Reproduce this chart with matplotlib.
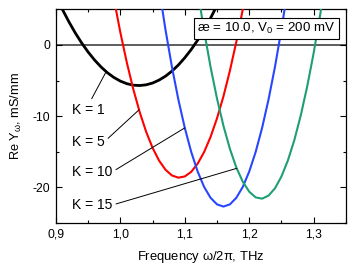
import numpy as np
import matplotlib
matplotlib.use('Agg')
import matplotlib.pyplot as plt
from matplotlib.ticker import MultipleLocator, FuncFormatter

plt.rcParams['font.family'] = ['Liberation Sans', 'DejaVu Sans']
plt.rcParams['mathtext.fontset'] = 'custom'
plt.rcParams['mathtext.rm'] = 'Liberation Sans'
plt.rcParams['mathtext.it'] = 'Liberation Sans'
plt.rcParams['axes.unicode_minus'] = False

# Re Y vs frequency
freq_k1 = [0.90, 0.91, 0.92, 0.93, 0.94, 0.95, 0.96, 0.97, 0.98, 0.99, 1.00, 1.01, 1.02, 1.03,
           1.04, 1.05, 1.06, 1.07, 1.08, 1.09, 1.10, 1.11, 1.12, 1.13, 1.14, 1.15, 1.16]
re_k1 = [6.88, 5.00, 3.27, 1.69, 0.27, -1.00, -2.12, -3.09, -3.91, -4.57, -5.08, -5.44, -5.65, -5.70,
         -5.60, -5.35, -4.94, -4.39, -3.68, -2.82, -1.80, -0.64, 0.68, 2.15, 3.77, 5.55, 7.48]

freq_k5 = [0.99, 1.00, 1.01, 1.02, 1.03, 1.04, 1.05, 1.06, 1.07, 1.08, 1.09, 1.10, 1.11, 1.12,
           1.13, 1.14, 1.15, 1.16, 1.17, 1.18, 1.19, 1.20]
re_k5 = [6.46, 1.75, -2.46, -6.19, -9.43, -12.19, -14.45, -16.23, -17.52, -18.33, -18.64, -18.47,
         -17.82, -16.67, -15.04, -12.92, -10.31, -7.22, -3.63, 0.44, 4.99, 10.04]

freq_k10 = [1.06, 1.07, 1.08, 1.09, 1.10, 1.11, 1.12, 1.13, 1.14, 1.15, 1.16, 1.17, 1.18, 1.19,
            1.20, 1.21, 1.22, 1.23, 1.24, 1.25, 1.26]
re_k10 = [7.99, 2.16, -3.06, -7.66, -11.65, -15.03, -17.79, -19.94, -21.47, -22.39, -22.70, -22.39,
          -21.47, -19.94, -17.79, -15.03, -11.65, -7.66, -3.06, 2.16, 7.99]

freq_k15 = [1.12, 1.13, 1.14, 1.15, 1.16, 1.17, 1.18, 1.19, 1.20, 1.21, 1.22, 1.23, 1.24, 1.25,
            1.26, 1.27, 1.28, 1.29, 1.30, 1.31, 1.32]
re_k15 = [7.62, 1.97, -3.09, -7.53, -11.36, -14.59, -17.21, -19.21, -20.61, -21.41, -21.59, -21.16,
          -20.13, -18.48, -16.23, -13.37, -9.90, -5.83, -1.14, 4.16, 10.06]

labels = ['K = 1', 'K = 5', 'K = 10', 'K = 15']

fig = plt.figure(figsize=(3.54, 2.67), dpi=100)
ax = fig.add_axes([0.158, 0.165, 0.819, 0.80])

ax.axhline(0, color='#505050', lw=1.3, zorder=1)

ax.plot(freq_k1, re_k1, color='black', lw=2.0, zorder=3)
ax.plot(freq_k5, re_k5, color='#ff0000', lw=1.5, zorder=3)
ax.plot(freq_k10, re_k10, color='#2846ff', lw=1.5, zorder=3)
ax.plot(freq_k15, re_k15, color='#1f9e76', lw=1.5, zorder=3)

# leader lines from labels to curves
curves = [(freq_k1, re_k1), (freq_k5, re_k5), (freq_k10, re_k10), (freq_k15, re_k15)]
tip_f = [0.978, 1.029, 1.100, 1.1806]
text_y = [-9.1, -13.7, -17.85, -22.5]
relpos = [(0.55, 1.0), (1.0, 0.55), (1.0, 0.5), (1.0, 0.5)]
for lab, (fx, fy), tf, ty, rp in zip(labels, curves, tip_f, text_y, relpos):
    tv = np.interp(tf, fx, fy)
    ax.annotate(lab, xy=(tf, tv), xytext=(0.9243, ty), ha='left', va='center',
                fontsize=10, zorder=4,
                arrowprops=dict(arrowstyle='-', color='black', lw=0.7,
                                shrinkA=1, shrinkB=0, relpos=rp))

ax.text(0.487, 0.911, 'æ = 10.0, V$_0$ = 200 mV', transform=ax.transAxes,
        ha='left', va='center', fontsize=9.6, zorder=5,
        bbox=dict(boxstyle='square,pad=0.22', fc='white', ec='black', lw=0.8))

ax.set_xlim(0.9, 1.35)
ax.set_ylim(-25, 5)
ax.xaxis.set_major_locator(MultipleLocator(0.1))
ax.xaxis.set_minor_locator(MultipleLocator(0.05))
ax.yaxis.set_major_locator(MultipleLocator(10))
ax.yaxis.set_minor_locator(MultipleLocator(5))
ax.xaxis.set_major_formatter(FuncFormatter(lambda v, p: ('%.1f' % v).replace('.', ',')))
ax.yaxis.set_major_formatter(FuncFormatter(lambda v, p: '%d' % round(v)))
ax.tick_params(which='both', direction='in', top=True, right=True, labelsize=8.7, width=0.8)
ax.tick_params(which='major', length=4, pad=4)
ax.tick_params(which='minor', length=2.5)
for s in ax.spines.values():
    s.set_linewidth(0.9)

ax.set_xlabel(r'Frequency $\omega$/2$\pi$, THz', fontsize=9.4, labelpad=6)
ax.set_ylabel(r'Re Y$_\omega$, mS/mm', fontsize=9.2, labelpad=6)

fig.savefig('out.png', dpi=100)
